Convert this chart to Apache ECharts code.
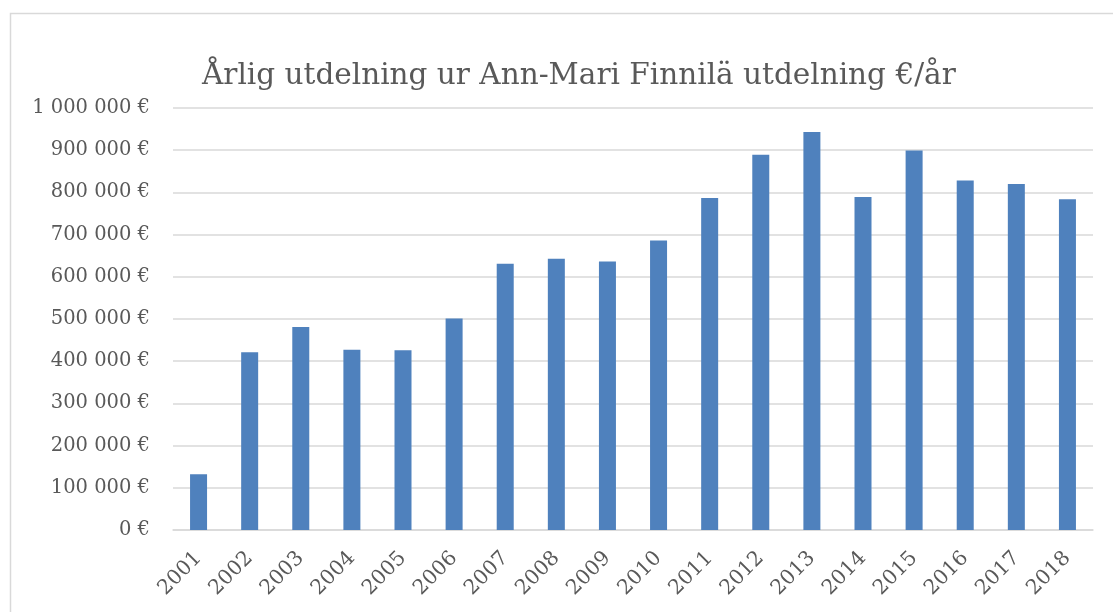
<!DOCTYPE html>
<html>
<head>
<meta charset="utf-8">
<script src="https://cdn.jsdelivr.net/npm/echarts@6/dist/echarts.min.js"></script>
<style>
html,body{margin:0;padding:0;background:#fff;}
#chart{width:1113px;height:612px;}
</style>
</head>
<body>
<div id="chart"></div>
<script>
const titleText = 'Årlig utdelning ur Ann-Mari Finnilä utdelning €/år';
const years = ['2001','2002','2003','2004','2005','2006','2007','2008','2009','2010','2011','2012','2013','2014','2015','2016','2017','2018'];
const payouts = [132000,421000,481000,427000,426000,501000,631000,643000,636000,686000,787000,889000,943000,789000,899000,828000,820000,784000];

const fmt = v => String(Math.round(v)).replace(/\B(?=(\d{3})+(?!\d))/g, ' ') + ' €';
const serif = '"DejaVu Serif", "Liberation Serif", serif';

const chart = echarts.init(document.getElementById('chart'));
chart.setOption({
  animation: false,
  backgroundColor: '#ffffff',
  graphic: [{
    type: 'rect',
    shape: {x: 10.5, y: 13.5, width: 1200, height: 700},
    style: {fill: 'none', stroke: '#d9d9d9', lineWidth: 1.5},
    silent: true
  }],
  title: {
    text: titleText,
    left: 197,
    top: 56,
    textStyle: {fontFamily: serif, fontSize: 29.5, fontWeight: 'normal', color: '#595959'}
  },
  grid: {left: 173, right: 20, top: 108, bottom: 82},
  xAxis: {
    type: 'category',
    data: years,
    axisLine: {lineStyle: {color: '#d9d9d9', width: 1.5}},
    axisTick: {show: false},
    axisLabel: {rotate: 45, fontFamily: serif, fontSize: 20.5, color: '#595959', margin: 25}
  },
  yAxis: {
    type: 'value',
    min: 0,
    max: 1000000,
    interval: 100000,
    axisLine: {show: false},
    axisTick: {show: false},
    splitLine: {lineStyle: {color: '#d9d9d9', width: 1.5}},
    axisLabel: {formatter: fmt, fontFamily: serif, fontSize: 19.5, color: '#595959', margin: 23}
  },
  series: [{
    type: 'bar',
    data: payouts,
    barWidth: 17,
    itemStyle: {color: '#4f81bd'}
  }]
});
</script>
</body>
</html>
